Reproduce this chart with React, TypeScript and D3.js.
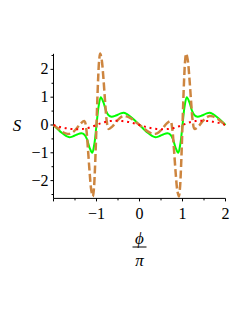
import React from "react";
import * as d3 from "d3";

const xTicks = [-1, 0, 1, 2];
const yTicks = [-2, -1, 0, 1, 2];
const minorTicks = [-2, -1.5, -1, -0.5, 0, 0.5, 1, 1.5, 2];
const yMinorTicks = [-2.5, -2, -1.5, -1, -0.5, 0, 0.5, 1, 1.5, 2, 2.5];

const greenX = [-2, -1.9, -1.8, -1.7, -1.63, -1.55, -1.45, -1.35, -1.28, -1.22, -1.16, -1.1, -1.05,
  -1, -0.95, -0.9, -0.84, -0.78, -0.72, -0.65, -0.55, -0.45, -0.37, -0.3, -0.2, -0.1,
  0, 0.1, 0.2, 0.3, 0.37, 0.45, 0.55, 0.65, 0.72, 0.78, 0.84, 0.9, 0.95,
  1, 1.05, 1.1, 1.16, 1.22, 1.28, 1.35, 1.45, 1.55, 1.63, 1.7, 1.8, 1.9, 2];
const greenY = [0, -0.15, -0.29, -0.4, -0.44, -0.41, -0.34, -0.3, -0.35, -0.52, -0.82, -1.0, -0.68,
  0, 0.68, 1.0, 0.82, 0.52, 0.35, 0.3, 0.34, 0.41, 0.44, 0.4, 0.29, 0.15,
  0, -0.15, -0.29, -0.4, -0.44, -0.41, -0.34, -0.3, -0.35, -0.52, -0.82, -1.0, -0.68,
  0, 0.68, 1.0, 0.82, 0.52, 0.35, 0.3, 0.34, 0.41, 0.44, 0.4, 0.29, 0.15, 0];

const brownX = [-2, -1.9, -1.8, -1.7, -1.63, -1.55, -1.45, -1.37, -1.28, -1.24, -1.2, -1.16, -1.12, -1.085, -1.06, -1.04, -1.02,
  -1, -0.98, -0.96, -0.94, -0.915, -0.88, -0.84, -0.8, -0.76, -0.72, -0.63, -0.55, -0.45, -0.37, -0.3, -0.2, -0.1,
  0, 0.1, 0.2, 0.3, 0.37, 0.45, 0.55, 0.63, 0.72, 0.76, 0.8, 0.84, 0.88, 0.915, 0.94, 0.96, 0.98,
  1, 1.02, 1.04, 1.06, 1.085, 1.12, 1.16, 1.2, 1.24, 1.28, 1.37, 1.45, 1.55, 1.63, 1.7, 1.8, 1.9, 2];
const brownY = [0, -0.12, -0.24, -0.31, -0.32, -0.26, -0.1, 0.05, 0.14, -0.12, -0.84, -1.7, -2.36, -2.57, -2.29, -1.73, -0.93,
  0, 0.93, 1.73, 2.29, 2.57, 2.36, 1.7, 0.84, 0.12, -0.14, -0.05, 0.1, 0.26, 0.32, 0.31, 0.24, 0.12,
  0, -0.12, -0.24, -0.31, -0.32, -0.26, -0.1, 0.05, 0.14, -0.12, -0.84, -1.7, -2.36, -2.57, -2.29, -1.73, -0.93,
  0, 0.93, 1.73, 2.29, 2.57, 2.36, 1.7, 0.84, 0.12, -0.14, -0.05, 0.1, 0.26, 0.32, 0.31, 0.24, 0.12, 0];

const redX = [-2, -1.9, -1.8, -1.7, -1.6, -1.5, -1.4, -1.3, -1.2, -1.1,
  -1, -0.9, -0.8, -0.7, -0.6, -0.5, -0.4, -0.3, -0.2, -0.1,
  0, 0.1, 0.2, 0.3, 0.4, 0.5, 0.6, 0.7, 0.8, 0.9,
  1, 1.1, 1.2, 1.3, 1.4, 1.5, 1.6, 1.7, 1.8, 1.9, 2];
const redY = [0, -0.05, -0.09, -0.12, -0.14, -0.15, -0.15, -0.14, -0.11, -0.06,
  0, 0.06, 0.11, 0.14, 0.15, 0.15, 0.14, 0.12, 0.09, 0.05,
  0, -0.05, -0.09, -0.12, -0.14, -0.15, -0.15, -0.14, -0.11, -0.06,
  0, 0.06, 0.11, 0.14, 0.15, 0.15, 0.14, 0.12, 0.09, 0.05, 0];

const W = 249, H = 323;
const FONT = "'Liberation Serif', 'Times New Roman', serif";

export default function App() {
  const x = d3.scaleLinear().domain([-2, 2]).range([53.5, 225.5]);
  const y = d3.scaleLinear().domain([-2.64, 2.56]).range([198.4, 53.8]);
  const line = d3.line<[number, number]>().x(d => x(d[0])).y(d => y(d[1])).curve(d3.curveCatmullRom.alpha(0.5));
  const zip = (a: number[], b: number[]) => a.map((v, i) => [v, b[i]] as [number, number]);
  const x0 = x(-2), y0 = y(-2.64);
  return (
    <svg width={W} height={H} style={{ position: "absolute", left: 0, top: 0, background: "#fff" }}>
      <defs>
        <clipPath id="plot"><rect x={x0 - 2} y={y(2.56) - 2} width={x(2) - x0 + 4} height={y0 - y(2.56) + 4} /></clipPath>
      </defs>
      <line x1={x0} x2={x(2)} y1={y0} y2={y0} stroke="#000" strokeWidth={1} />
      <line x1={x0} x2={x0} y1={y(2.56)} y2={y0} stroke="#000" strokeWidth={1} />
      {minorTicks.map(t => (
        <line key={"xt" + t} x1={x(t)} x2={x(t)} y1={y0} y2={y0 + (Number.isInteger(t) ? 3 : 2)} stroke="#000" strokeWidth={1} />
      ))}
      {yMinorTicks.map(t => (
        <line key={"yt" + t} x1={x0 - (Number.isInteger(t) ? 3 : 2)} x2={x0} y1={y(t)} y2={y(t)} stroke="#000" strokeWidth={1} />
      ))}
      {xTicks.map(t => (
        <text key={"xl" + t} x={x(t)} y={y0 + 21} textAnchor="middle" fontFamily={FONT} fontSize={16}>
          {t < 0 ? "\u2212" + Math.abs(t) : String(t)}
        </text>
      ))}
      {yTicks.map(t => (
        <text key={"yl" + t} x={x0 - 5} y={y(t) + 5} textAnchor="end" fontFamily={FONT} fontSize={16}>
          {t < 0 ? "\u2212" + Math.abs(t) : String(t)}
        </text>
      ))}
      <text x={17} y={y(0) + 6} textAnchor="middle" fontFamily={FONT} fontSize={17} fontStyle="italic">S</text>
      <text x={x(0)} y={244} textAnchor="middle" fontFamily={FONT} fontSize={17} fontStyle="italic">ϕ</text>
      <line x1={x(0) - 7} x2={x(0) + 7} y1={247} y2={247} stroke="#000" strokeWidth={1} />
      <text x={x(0)} y={266} textAnchor="middle" fontFamily={FONT} fontSize={17} fontStyle="italic">π</text>
      <g clipPath="url(#plot)" fill="none">
        <path d={line(zip(greenX, greenY)) || ""} stroke="#00ff00" strokeWidth={2} />
        <path d={line(zip(brownX, brownY)) || ""} stroke="#cd853f" strokeWidth={2.5} strokeDasharray="8 3.5" />
        <path d={line(zip(redX, redY)) || ""} stroke="#ff0000" strokeWidth={2} strokeDasharray="2 3.8" />
      </g>
    </svg>
  );
}
